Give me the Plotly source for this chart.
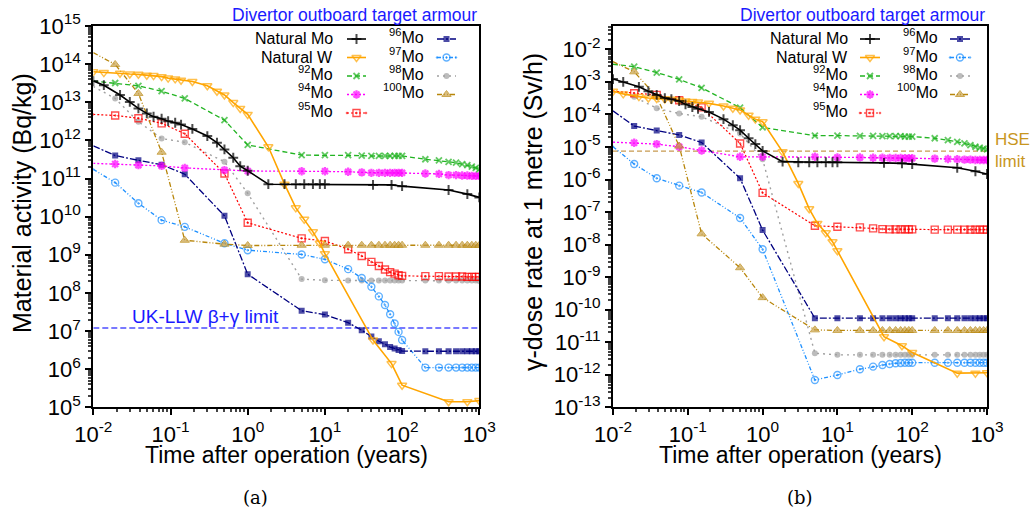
import numpy as np
import plotly.graph_objects as go

# ---------------- data ----------------
T_ISO = [0.01, 0.0192, 0.0384, 0.0767, 0.153, 0.5, 1, 5, 10, 20, 30, 40, 50, 60, 70, 80, 90,
         100, 200, 300, 400, 500, 600, 700, 800, 900, 1000]
T_NAT = [0.01, 0.0137, 0.0222, 0.0297, 0.0384, 0.0493, 0.0603, 0.0767, 0.0932, 0.115, 0.137,
         0.192, 0.30, 0.40, 0.50, 0.65, 0.80, 1.0, 1.85, 3.0, 4.2, 5.4, 7.0, 8.6, 10, 42, 73,
         100, 400, 700, 1000]

# (a) material activity, Bq/kg
ACT_NAT_MO = [3.6e13, 2.8e13, 1.55e13, 1.02e13, 6.9e12, 5.1e12, 4.2e12, 3.7e12, 3.2e12, 2.9e12,
              2.6e12, 2.0e12, 1.3e12, 8.7e11, 5.8e11, 3.5e11, 2.1e11, 1.6e11, 7.1e10, 7.1e10,
              7.1e10, 7.1e10, 7.1e10, 7.1e10, 7.1e10, 6.8e10, 6.8e10, 6.3e10, 5.0e10, 3.9e10, 3.2e10]
ACT_NAT_W = [6.3e13, 6.0e13, 5.8e13, 5.5e13, 5.4e13, 5.1e13, 5.0e13, 4.7e13, 4.3e13, 4.1e13,
             3.8e13, 3.5e13, 2.7e13, 1.95e13, 1.55e13, 9.8e12, 6.9e12, 4.8e12, 6.8e11, 7.1e10,
             1.7e10, 8.5e9, 4.0e9, 2.0e9, 1.07e9, 5.8e6, 1.4e6, 3.8e5, 1.4e5, 1.4e5, 1.5e5]
ACT_MO92 = [3.6e13, 3.2e13, 2.7e13, 1.95e13, 1.26e13, 3.4e12, 7.6e11, 4.1e11, 4.1e11, 4.1e11,
            4.0e11, 3.9e11, 3.9e11, 3.9e11, 3.9e11, 3.9e11, 3.9e11, 3.9e11, 3.2e11, 3.0e11,
            2.75e11, 2.6e11, 2.4e11, 2.25e11, 2.05e11, 1.9e11, 1.75e11]
ACT_MO94 = [2.5e11, 2.4e11, 2.24e11, 2.14e11, 1.9e11, 1.66e11, 1.58e11, 1.55e11, 1.55e11, 1.51e11,
            1.45e11, 1.41e11, 1.41e11, 1.41e11, 1.41e11, 1.41e11, 1.41e11, 1.41e11, 1.35e11,
            1.32e11, 1.23e11, 1.23e11, 1.2e11, 1.2e11, 1.17e11, 1.17e11, 1.17e11]
ACT_MO95 = [4.8e12, 4.5e12, 3.8e12, 2.8e12, 1.5e12, 1.35e11, 6.9e9, 2.7e9, 2.3e9, 1.4e9, 9.3e8,
            6.5e8, 5.1e8, 4.1e8, 3.5e8, 3.2e8, 2.9e8, 2.8e8, 2.75e8, 2.75e8, 2.7e8, 2.7e8, 2.7e8,
            2.63e8, 2.63e8, 2.63e8, 2.63e8]
ACT_MO96 = [7.2e11, 4.0e11, 3.0e11, 2.3e11, 1.3e11, 1.05e10, 3.1e8, 3.4e7, 2.7e7, 1.66e7, 1.05e7,
            7.2e6, 5.4e6, 4.5e6, 3.8e6, 3.5e6, 3.2e6, 3.0e6, 2.95e6, 2.95e6, 2.95e6, 2.95e6,
            2.95e6, 2.95e6, 2.95e6, 2.95e6, 2.95e6]
ACT_MO97 = [1.74e11, 7.8e10, 2.24e10, 8.1e9, 5.4e9, 2.0e9, 1.32e9, 1.02e9, 7.6e8, 4.2e8, 2.45e8,
            1.45e8, 8.1e7, 4.8e7, 2.75e7, 1.58e7, 9.5e6, 5.8e6, 1.1e6, 1.1e6, 1.1e6, 1.1e6,
            1.1e6, 1.1e6, 1.1e6, 1.1e6, 1.1e6]
ACT_MO98 = [2.6e13, 1.26e13, 3.1e12, 1.12e12, 8.9e11, 2.75e11, 4.1e10, 2.3e8, 2.14e8, 2.1e8,
            2.1e8, 2.1e8, 2.1e8, 2.1e8, 2.1e8, 2.1e8, 2.1e8, 2.1e8, 2.1e8, 2.1e8, 2.1e8, 2.1e8,
            2.1e8, 2.1e8, 2.1e8, 2.1e8, 2.05e8]
ACT_MO100 = [2.0e14, 9.8e13, 1.7e13, 4.9e11, 2.4e9, 1.9e9, 1.75e9, 1.78e9, 1.78e9, 1.78e9,
             1.78e9, 1.78e9, 1.78e9, 1.78e9, 1.78e9, 1.78e9, 1.78e9, 1.78e9, 1.78e9, 1.78e9,
             1.78e9, 1.78e9, 1.78e9, 1.78e9, 1.78e9, 1.78e9, 1.78e9]

# (b) gamma dose rate at 1 m, Sv/h
DOSE_NAT_MO = [1.23e-3, 1.0e-3, 7.1e-4, 5.2e-4, 4.0e-4, 3.2e-4, 2.95e-4, 2.6e-4, 2.05e-4, 1.7e-4,
               1.5e-4, 1.2e-4, 7.2e-5, 4.7e-5, 3.3e-5, 1.86e-5, 1.23e-5, 7.6e-6, 3.55e-6, 3.4e-6,
               3.4e-6, 3.4e-6, 3.4e-6, 3.4e-6, 3.4e-6, 3.25e-6, 3.15e-6, 3.0e-6, 2.3e-6, 1.8e-6, 1.48e-6]
DOSE_NAT_W = [5.2e-4, 4.3e-4, 3.55e-4, 3.2e-4, 3.1e-4, 3.0e-4, 2.95e-4, 2.8e-4, 2.6e-4, 2.5e-4,
              2.4e-4, 2.2e-4, 1.82e-4, 1.55e-4, 1.38e-4, 9.5e-5, 7.2e-5, 6.0e-5, 7.1e-6, 7.6e-7,
              1.26e-7, 4.5e-8, 2.3e-8, 1.23e-8, 6.5e-9, 1.48e-11, 7.8e-12, 4.8e-12, 1.12e-12,
              1.12e-12, 1.15e-12]
DOSE_MO92 = [3.5e-3, 2.95e-3, 1.95e-3, 1.2e-3, 6.6e-4, 1.62e-4, 4.0e-5, 2.24e-5, 2.24e-5, 2.2e-5,
             2.2e-5, 2.15e-5, 2.15e-5, 2.15e-5, 2.15e-5, 2.1e-5, 2.1e-5, 2.1e-5, 1.86e-5, 1.62e-5,
             1.45e-5, 1.29e-5, 1.15e-5, 1.02e-5, 9.5e-6, 8.9e-6, 8.5e-6]
DOSE_MO94 = [1.41e-5, 1.35e-5, 1.23e-5, 1.02e-5, 7.8e-6, 5.0e-6, 5.0e-6, 5.0e-6, 4.8e-6, 4.8e-6,
             4.7e-6, 4.7e-6, 4.6e-6, 4.6e-6, 4.6e-6, 4.5e-6, 4.5e-6, 4.5e-6, 4.4e-6, 4.3e-6,
             4.2e-6, 4.1e-6, 4.1e-6, 4.0e-6, 4.0e-6, 4.0e-6, 4.0e-6]
DOSE_MO95 = [5.2e-4, 4.5e-4, 4.0e-4, 2.75e-4, 1.66e-4, 1.29e-5, 3.9e-7, 3.8e-8, 3.55e-8, 3.4e-8,
             3.15e-8, 3.0e-8, 2.95e-8, 2.95e-8, 2.95e-8, 2.95e-8, 2.95e-8, 2.95e-8, 2.9e-8,
             2.9e-8, 2.9e-8, 2.9e-8, 2.9e-8, 2.9e-8, 2.9e-8, 2.9e-8, 2.9e-8]
DOSE_MO96 = [1.29e-4, 4.4e-5, 3.2e-5, 2.35e-5, 1.38e-5, 1.1e-6, 2.8e-8, 5.5e-11, 5.5e-11, 5.5e-11,
             5.5e-11, 5.5e-11, 5.5e-11, 5.5e-11, 5.5e-11, 5.5e-11, 5.5e-11, 5.5e-11, 5.5e-11,
             5.5e-11, 5.5e-11, 5.5e-11, 5.5e-11, 5.5e-11, 5.5e-11, 5.5e-11, 5.5e-11]
DOSE_MO97 = [1.02e-5, 3.0e-6, 1.1e-6, 6.5e-7, 4.0e-7, 6.6e-8, 7.2e-9, 6.9e-13, 9.8e-13, 1.48e-12,
             1.78e-12, 2.0e-12, 2.15e-12, 2.25e-12, 2.3e-12, 2.35e-12, 2.35e-12, 2.35e-12,
             2.35e-12, 2.35e-12, 2.35e-12, 2.35e-12, 2.35e-12, 2.35e-12, 2.35e-12, 2.35e-12, 2.35e-12]
DOSE_MO98 = [5.0e-4, 3.5e-4, 1.55e-4, 1.07e-4, 8.5e-5, 2.6e-5, 4.2e-6, 4.6e-12, 4.1e-12, 4.1e-12,
             4.1e-12, 4.1e-12, 4.1e-12, 4.1e-12, 4.1e-12, 4.1e-12, 4.1e-12, 4.1e-12, 4.1e-12,
             4.1e-12, 4.1e-12, 4.1e-12, 4.1e-12, 4.1e-12, 4.1e-12, 4.1e-12, 4.1e-12]
DOSE_MO100 = [4.2e-3, 2.05e-3, 3.5e-4, 1.07e-5, 2.15e-8, 1.95e-9, 2.35e-10, 2.4e-11, 2.3e-11,
              2.3e-11, 2.3e-11, 2.3e-11, 2.3e-11, 2.3e-11, 2.3e-11, 2.3e-11, 2.3e-11, 2.3e-11,
              2.3e-11, 2.3e-11, 2.3e-11, 2.3e-11, 2.3e-11, 2.3e-11, 2.3e-11, 2.3e-11, 2.3e-11]

LLW_LIMIT = 1.2e7      # Bq/kg
HSE_LIMIT = 7.5e-6     # Sv/h
LIMIT_T = [0.01, 1000]

SERIES_LABELS = ["Natural Mo", "Natural W", "<sup>92</sup>Mo", "<sup>94</sup>Mo", "<sup>95</sup>Mo",
                 "<sup>96</sup>Mo", "<sup>97</sup>Mo", "<sup>98</sup>Mo", "<sup>100</sup>Mo"]
X_TICKS = [1e-2, 1e-1, 1e0, 1e1, 1e2, 1e3]
X_TICKTEXT = ["10<sup>-2</sup>", "10<sup>-1</sup>", "10<sup>0</sup>", "10<sup>1</sup>",
              "10<sup>2</sup>", "10<sup>3</sup>"]
YA_EXP = list(range(5, 16))
YB_EXP = list(range(-13, -1))

# ---------------- styles ----------------
FONT = "Liberation Sans, Arial, sans-serif"
STYLES = [
    dict(color="#000000", dash="solid", width=1.6, symbol="cross-thin", size=7, lw=2),
    dict(color="#ffa500", dash="solid", width=1.6, symbol="triangle-down-open", size=8, lw=1.5),
    dict(color="#22b422", dash="5px,3px", width=1.3, symbol="x-thin", size=6, lw=1.8),
    dict(color="#ff00ff", dash="2px,2px", width=1.3, symbol="asterisk", size=7, lw=2.2),
    dict(color="#ff0000", dash="2px,2px", width=1.2, symbol="square-open-dot", size=7, lw=1.4),
    dict(color="#000080", dash="7px,2px,2px,2px", width=1.3, symbol="square", size=6, lw=0),
    dict(color="#1e90ff", dash="4px,2px,1px,2px,1px,2px", width=1.3, symbol="circle-open-dot", size=7, lw=1.4),
    dict(color="#a0a0a0", dash="2px,4px", width=1.4, symbol="circle", size=6, lw=0),
    dict(color="#b8860b", dash="5px,2px,1px,2px,1px,2px", width=1.3, symbol="triangle-up", size=8, lw=1),
]
MARKER_FILL = {8: "#c9a24a"}

ACT = [ACT_NAT_MO, ACT_NAT_W, ACT_MO92, ACT_MO94, ACT_MO95, ACT_MO96, ACT_MO97, ACT_MO98, ACT_MO100]
DOSE = [DOSE_NAT_MO, DOSE_NAT_W, DOSE_MO92, DOSE_MO94, DOSE_MO95, DOSE_MO96, DOSE_MO97, DOSE_MO98, DOSE_MO100]

fig = go.Figure()


def marker_for(i, n, first_visible):
    s = STYLES[i]
    sizes = [s["size"]] * n
    if not first_visible:
        sizes[0] = 0
    return dict(symbol=s["symbol"], size=sizes, color=MARKER_FILL.get(i, s["color"]),
                line=dict(color=s["color"], width=s["lw"]))


for panel, (data, xa, ya) in enumerate([(ACT, "x", "y"), (DOSE, "x2", "y2")]):
    if panel == 0:
        fig.add_trace(go.Scatter(x=LIMIT_T, y=[LLW_LIMIT, LLW_LIMIT], mode="lines", xaxis=xa, yaxis=ya,
                                 line=dict(color="#4d4dff", width=1.3, dash="6px,3px"),
                                 showlegend=False, hoverinfo="skip"))
    else:
        fig.add_trace(go.Scatter(x=LIMIT_T, y=[HSE_LIMIT, HSE_LIMIT], mode="lines", xaxis=xa, yaxis=ya,
                                 line=dict(color="#c89a50", width=1.2, dash="5px,3px"),
                                 showlegend=False, hoverinfo="skip"))
    order = [7, 6, 5, 4, 3, 2, 8, 1, 0]
    for i in order:
        t = T_NAT if i < 2 else T_ISO
        s = STYLES[i]
        fig.add_trace(go.Scatter(
            x=t, y=data[i], mode="lines+markers", xaxis=xa, yaxis=ya,
            line=dict(color=s["color"], width=s["width"], dash=s["dash"]),
            marker=marker_for(i, len(t), i < 2),
            showlegend=False, name=SERIES_LABELS[i]))

# ---------------- manual legends (text left of key, as in original) ----------------
W, H = 1034, 513
ROW_Y = [39, 57.5, 76, 94.5, 113]
COLS = {0: [(335, 347, 366), (426, 437, 456)], 1: [(850, 860, 880), (940, 950, 970)]}
annotations = []
for panel in (0, 1):
    for i, lab in enumerate(SERIES_LABELS):
        col = 0 if i < 5 else 1
        row = i if i < 5 else i - 5
        tx, k0, k1 = COLS[panel][col]
        y = ROW_Y[row]
        s = STYLES[i]
        fig.add_trace(go.Scatter(
            x=[k0, (k0 + k1) / 2, k1], y=[y, y, y], mode="lines+markers", xaxis="x3", yaxis="y3",
            line=dict(color=s["color"], width=s["width"], dash=s["dash"]),
            marker=dict(symbol=s["symbol"], size=[0, s["size"], 0], color=MARKER_FILL.get(i, s["color"]),
                        line=dict(color=s["color"], width=s["lw"])),
            showlegend=False, hoverinfo="skip", cliponaxis=False))
        dy = -3 if "<sup>" in lab else 0
        annotations.append(dict(x=tx / W, y=1 - (y + dy) / H, xref="paper", yref="paper",
                                text=lab, showarrow=False, xanchor="right", yanchor="middle",
                                font=dict(family=FONT, size=16, color="black")))

for xr in (479, 987):
    annotations.append(dict(x=xr / W, y=1 - 15 / H, xref="paper", yref="paper",
                            text="Divertor outboard target armour", showarrow=False,
                            xanchor="right", yanchor="middle",
                            font=dict(family=FONT, size=17.5, color="#1a1aff")))

CENTER = dict(xanchor="center", yanchor="middle", showarrow=False, xref="paper", yref="paper")
# axis titles
annotations.append(dict(x=22 / W, y=1 - 203 / H, text="Material activity (Bq/kg)", textangle=-90,
                        font=dict(family=FONT, size=25, color="black"), **CENTER))
annotations.append(dict(x=533 / W, y=1 - 212 / H, text="γ-dose rate at 1 metre (Sv/h)", textangle=-90,
                        font=dict(family=FONT, size=25, color="black"), **CENTER))
for xc in (286, 800):
    annotations.append(dict(x=xc / W, y=1 - 455 / H, text="Time after operation (years)",
                            font=dict(family=FONT, size=23, color="black"), **CENTER))
# captions
for xc, cap in ((255, "(a)"), (800, "(b)")):
    annotations.append(dict(x=xc / W, y=1 - 497 / H, text=cap,
                            font=dict(family="DejaVu Serif, Liberation Serif, serif", size=18, color="black"),
                            **CENTER))
# limit labels
annotations.append(dict(x=np.log10(0.03), y=np.log10(LLW_LIMIT), xref="x", yref="y", text="UK-LLW β+γ limit",
                        showarrow=False, xanchor="left", yanchor="bottom", yshift=-1,
                        font=dict(family=FONT, size=19, color="#1a1aff")))
annotations.append(dict(x=993 / W, y=1 - 151 / H, xref="paper", yref="paper", text="HSE<br>limit",
                        showarrow=False, xanchor="left", yanchor="middle", align="left",
                        font=dict(family=FONT, size=17, color="#c8961e")))


def minor_vals(lo, hi):
    return [m * 10.0 ** e for e in range(lo, hi) for m in range(2, 10)]


axis_common = dict(type="log", showgrid=False, zeroline=False, showline=True, linecolor="black",
                   linewidth=2, mirror=True, ticks="outside", ticklen=6, tickwidth=1.5, tickcolor="black",
                   tickfont=dict(family=FONT, size=22, color="black"), tickmode="array", automargin=False)

xdom_a = [93.3 / W, 479.3 / W]
xdom_b = [613 / W, 987 / W]
ydom = [1 - 407.3 / H, 1 - 26 / H]

fig.update_layout(
    width=W, height=H, margin=dict(l=0, r=0, t=0, b=0, pad=0), autosize=False,
    paper_bgcolor="white", plot_bgcolor="rgba(0,0,0,0)", showlegend=False,
    xaxis=dict(domain=xdom_a, anchor="y", range=[-2, 3], tickvals=X_TICKS, ticktext=X_TICKTEXT,
               minor=dict(tickvals=minor_vals(-2, 3), ticks="outside", ticklen=3, tickcolor="#444"),
               **axis_common),
    yaxis=dict(domain=ydom, anchor="x", range=[5, 15], tickvals=[10.0 ** e for e in YA_EXP],
               ticktext=["10<sup>%d</sup>" % e for e in YA_EXP],
               minor=dict(tickvals=minor_vals(5, 15), ticks="outside", ticklen=3, tickcolor="#444"),
               **axis_common),
    xaxis2=dict(domain=xdom_b, anchor="y2", range=[-2, 3], tickvals=X_TICKS, ticktext=X_TICKTEXT,
                minor=dict(tickvals=minor_vals(-2, 3), ticks="outside", ticklen=3, tickcolor="#444"),
                **axis_common),
    yaxis2=dict(domain=ydom, anchor="x2", range=[-13, -1.28], tickvals=[10.0 ** e for e in YB_EXP],
                ticktext=["10<sup>%d</sup>" % e for e in YB_EXP],
                minor=dict(tickvals=minor_vals(-13, -1), ticks="outside", ticklen=3, tickcolor="#444"),
                **axis_common),
    xaxis3=dict(domain=[0, 1], anchor="y3", range=[0, W], visible=False, fixedrange=True, automargin=False),
    yaxis3=dict(domain=[0, 1], anchor="x3", range=[H, 0], visible=False, fixedrange=True, automargin=False),
    annotations=annotations,
)

fig.write_html("out.html")
